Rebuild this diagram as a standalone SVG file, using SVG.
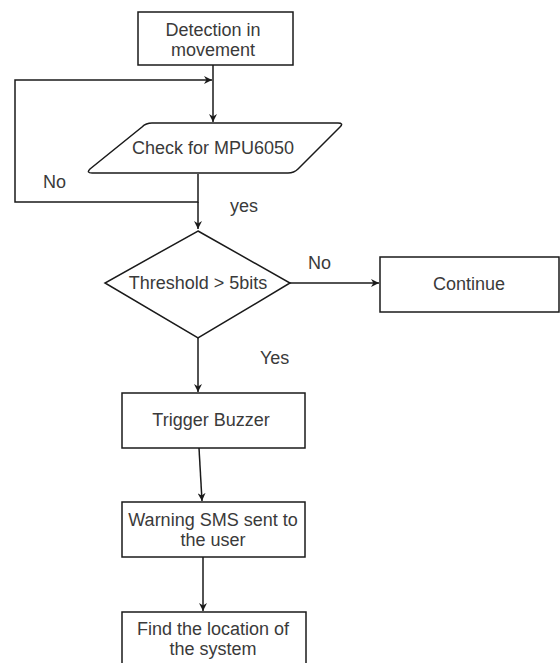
<svg xmlns="http://www.w3.org/2000/svg" width="560" height="663" viewBox="0 0 560 663">
<defs>
<style>
.box{fill:#fff;stroke:#1a1a1a;stroke-width:1.5}
.t{font-family:"Liberation Sans",Arial,sans-serif;font-size:18px;fill:#3a3a3a;text-anchor:middle}
.lbl{font-family:"Liberation Sans",Arial,sans-serif;font-size:18px;fill:#3a3a3a}
.c{fill:none;stroke:#1a1a1a;stroke-width:1.5}
</style>
<marker id="ah" viewBox="0 0 10 10" refX="10" refY="5" markerWidth="8" markerHeight="8" markerUnits="userSpaceOnUse" orient="auto">
<path d="M0,0 L10,5 L0,10 L3,5 Z" fill="#1a1a1a"/>
</marker>
</defs>
<rect width="560" height="663" fill="#fff"/>
<g id="connectors">
<path class="c" d="M213,65 L213,122" marker-end="url(#ah)"/>
<path class="c" d="M198,174 L198,202 L15,202 L15,80 L212,80" marker-end="url(#ah)"/>
<path class="c" d="M198,202 L198,229" marker-end="url(#ah)"/>
<path class="c" d="M290,283 L379,283" marker-end="url(#ah)"/>
<path class="c" d="M198,338 L198,392" marker-end="url(#ah)"/>
<path class="c" d="M199,448 L202,501" marker-end="url(#ah)"/>
<path class="c" d="M203,557 L203,611" marker-end="url(#ah)"/>
</g>
<g id="detection">
<rect class="box" x="138" y="12" width="155" height="53"/>
<text class="t" x="213" y="36">Detection in</text>
<text class="t" x="213" y="56">movement</text>
</g>
<g id="check">
<path class="box" d="M152,123 L338,123 Q344,123 340,127 L298,169 Q294,173 288,173 L92,173 Q86,173 90,169 L142,127 Q146,123 152,123 Z"/>
<text class="t" x="213" y="154">Check for MPU6050</text>
</g>
<g id="threshold">
<path class="box" d="M198,231 L290,283 L198,338 L105,283 Z"/>
<text class="t" x="198" y="289">Threshold &gt; 5bits</text>
</g>
<g id="continue">
<rect class="box" x="380" y="257" width="179" height="55"/>
<text class="t" x="469" y="290">Continue</text>
</g>
<g id="buzzer">
<rect class="box" x="122" y="393" width="183" height="55"/>
<text class="t" x="211" y="426">Trigger Buzzer</text>
</g>
<g id="sms">
<rect class="box" x="122" y="502" width="183" height="55"/>
<text class="t" x="213" y="526">Warning SMS sent to</text>
<text class="t" x="213" y="546">the user</text>
</g>
<g id="location">
<rect class="box" x="122" y="612" width="184" height="60"/>
<text class="t" x="213" y="635">Find the location of</text>
<text class="t" x="213" y="655">the system</text>
</g>
<g id="labels">
<text class="lbl" x="43" y="188">No</text>
<text class="lbl" x="230" y="212">yes</text>
<text class="lbl" x="308" y="269">No</text>
<text class="lbl" x="260" y="364">Yes</text>
</g>
</svg>
